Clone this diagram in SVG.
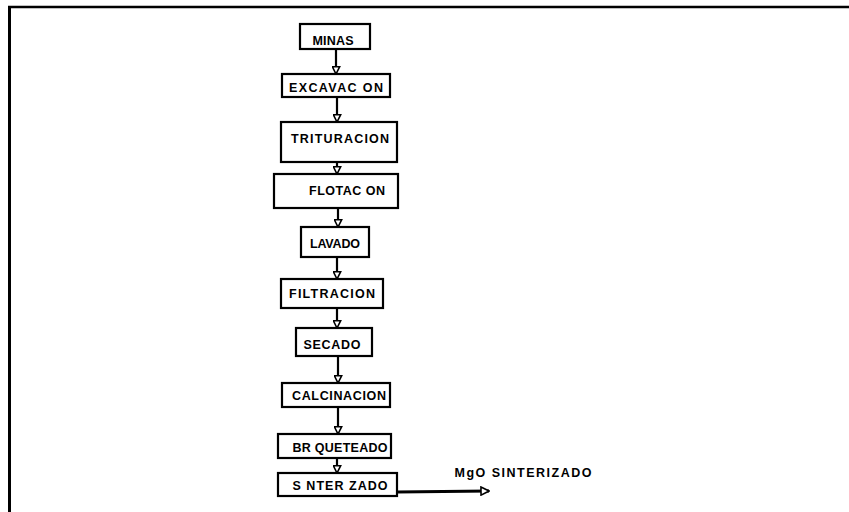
<svg xmlns="http://www.w3.org/2000/svg" width="849" height="512" viewBox="0 0 849 512">
<defs>
<marker id="ah" viewBox="0 0 10 10" refX="9" refY="5" markerWidth="9" markerHeight="9" markerUnits="userSpaceOnUse" orient="auto">
<path d="M1,1 L9,5 L1,9 Z" fill="#fff" stroke="#000" stroke-width="1.8"/>
</marker>
<marker id="ah2" viewBox="0 0 10 10" refX="9" refY="5" markerWidth="10" markerHeight="10" markerUnits="userSpaceOnUse" orient="auto">
<path d="M1,1 L9,5 L1,9 Z" fill="#fff" stroke="#000" stroke-width="1.6"/>
</marker>
<style>
.box{fill:#fff;stroke:#000;stroke-width:2.2}
.lbl{font-family:"Liberation Sans",Arial,sans-serif;font-weight:bold;font-size:12.5px;fill:#000;text-anchor:middle}
.con{stroke:#000;stroke-width:2.2;fill:none}
.frame{stroke:#000;fill:none}
</style>
</defs>
<rect width="849" height="512" fill="#fff"/>
<g id="frame">
<line class="frame" x1="8" y1="7" x2="849" y2="7" stroke-width="2.5"/>
<line class="frame" x1="9.5" y1="6" x2="9.5" y2="512" stroke-width="3"/>
</g>
<g id="connectors">
<line class="con" x1="336" y1="49" x2="336" y2="74" marker-end="url(#ah)"/>
<line class="con" x1="337" y1="97" x2="337" y2="122" marker-end="url(#ah)"/>
<line class="con" x1="337" y1="162" x2="337" y2="174" marker-end="url(#ah)"/>
<line class="con" x1="338" y1="208" x2="338" y2="227" marker-end="url(#ah)"/>
<line class="con" x1="337" y1="257" x2="337" y2="279" marker-end="url(#ah)"/>
<line class="con" x1="337" y1="308" x2="337" y2="328" marker-end="url(#ah)"/>
<line class="con" x1="338" y1="356" x2="338" y2="383" marker-end="url(#ah)"/>
<line class="con" x1="338" y1="407" x2="338" y2="434" marker-end="url(#ah)"/>
<line class="con" x1="337" y1="458" x2="337" y2="473" marker-end="url(#ah)"/>
<line x1="397" y1="492" x2="489" y2="491" stroke="#000" stroke-width="3" marker-end="url(#ah2)"/>
</g>
<g id="n1"><rect class="box" x="300" y="24" width="70" height="25"/><text class="lbl" x="333" y="45" textLength="41">MINAS</text></g>
<g id="n2"><rect class="box" x="282" y="74" width="108" height="23"/><text class="lbl" x="336" y="92" textLength="94">EXCAVAC ON</text></g>
<g id="n3"><rect class="box" x="281" y="122" width="116" height="40"/><text class="lbl" x="340" y="143" textLength="98">TRITURACION</text></g>
<g id="n4"><rect class="box" x="274" y="174" width="124" height="34"/><text class="lbl" x="347" y="195" textLength="76">FLOTAC ON</text></g>
<g id="n5"><rect class="box" x="301" y="227" width="68" height="30"/><text class="lbl" x="335" y="248" textLength="50">LAVADO</text></g>
<g id="n6"><rect class="box" x="281" y="279" width="102" height="29"/><text class="lbl" x="332" y="298" textLength="86">FILTRACION</text></g>
<g id="n7"><rect class="box" x="296" y="328" width="76" height="28"/><text class="lbl" x="332" y="349" textLength="57">SECADO</text></g>
<g id="n8"><rect class="box" x="282" y="383" width="108" height="24"/><text class="lbl" x="339" y="400" textLength="94">CALCINACION</text></g>
<g id="n9"><rect class="box" x="278" y="434" width="113" height="24"/><text class="lbl" x="340" y="452" textLength="95">BR QUETEADO</text></g>
<g id="n10"><rect class="box" x="278" y="473" width="119" height="23"/><text class="lbl" x="340" y="490" textLength="95">S NTER ZADO</text></g>
<g id="out"><text class="lbl" x="523" y="477" textLength="137">MgO SINTERIZADO</text></g>
</svg>
